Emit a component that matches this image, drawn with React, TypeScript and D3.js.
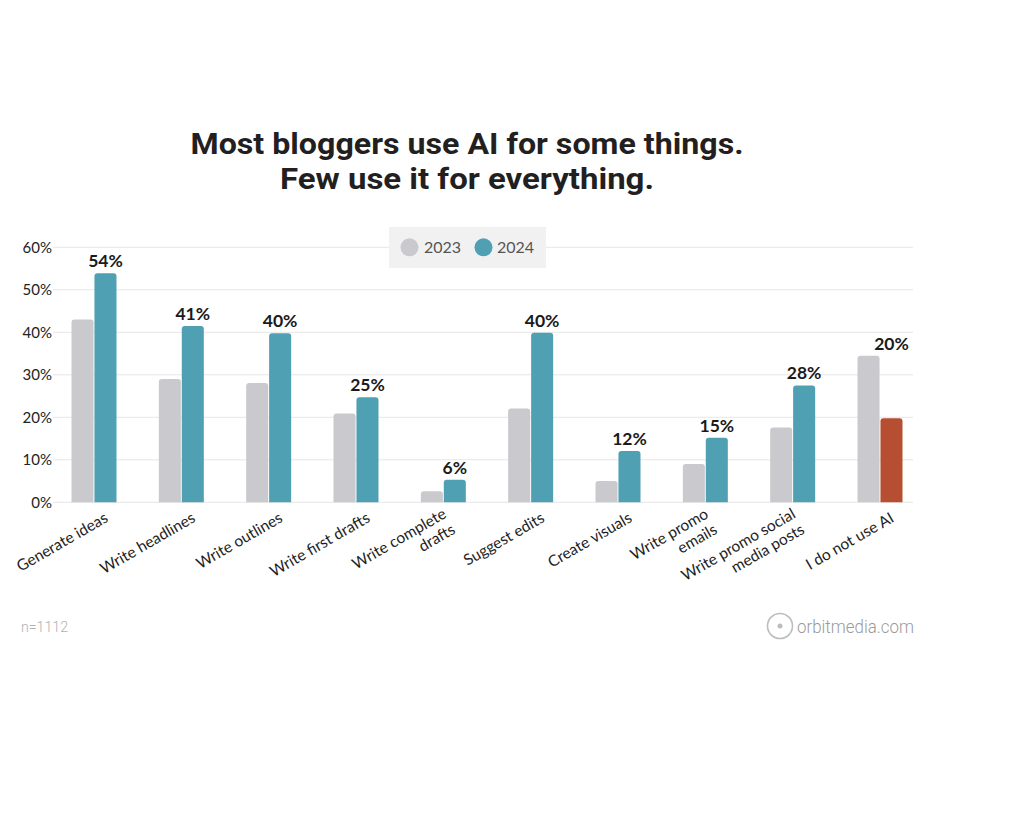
import React from "react";
import * as d3 from "d3";

const categories = [
  "Generate ideas",
  "Write headlines",
  "Write outlines",
  "Write first drafts",
  "Write complete\ndrafts",
  "Suggest edits",
  "Create visuals",
  "Write promo\nemails",
  "Write promo social\nmedia posts",
  "I do not use AI",
];
const series = ["2023", "2024"];
const values2023 = [43, 29, 28.1, 20.9, 2.6, 22.1, 5, 9, 17.6, 34.5];
const values2024 = [53.9, 41.5, 39.8, 24.7, 5.3, 39.9, 12.1, 15.2, 27.5, 19.8];
const labels2024 = ["54%", "41%", "40%", "25%", "6%", "40%", "12%", "15%", "28%", "20%"];
const yTicks = [0, 10, 20, 30, 40, 50, 60];
const titleLines = ["Most bloggers use AI for some things.", "Few use it for everything."];
const highlightCategory = "I do not use AI";

const W = 1024;
const H = 819;
const GRAY = "#cac9cd";
const TEAL = "#50a0b3";
const RED = "#b64f31";

function topRoundedRect(x: number, y: number, w: number, h: number, r: number) {
  const rr = Math.min(r, h, w / 2);
  const p = d3.path();
  p.moveTo(x, y + h);
  p.lineTo(x, y + rr);
  p.quadraticCurveTo(x, y, x + rr, y);
  p.lineTo(x + w - rr, y);
  p.quadraticCurveTo(x + w, y, x + w, y + rr);
  p.lineTo(x + w, y + h);
  p.closePath();
  return p.toString();
}

export default function App() {
  const y = d3.scaleLinear().domain([0, 60]).range([502.3, 247.3]);
  const x0 = d3.scaleBand<string>().domain(categories).range([50.33, 923.67]).padding(0);
  const x1 = d3.scaleBand<string>().domain(series).range([-22.5, 22.5]).paddingInner(0.04);
  const gridX0 = 53;
  const gridX1 = 913;
  const center = (c: string) => (x0(c) as number) + x0.bandwidth() / 2;
  const bw = x1.bandwidth();

  return (
    <svg
      width={W}
      height={H}
      viewBox={`0 0 ${W} ${H}`}
      style={{ position: "absolute", left: 0, top: 0, background: "#ffffff" }}
    >
      <rect x={0} y={0} width={W} height={H} fill="#ffffff" />

      {/* Title */}
      <text
        x={467}
        y={154}
        textAnchor="middle"
        fontFamily="Roboto, sans-serif"
        fontWeight={700}
        fontSize={30}
        fill="#231f20"
        textLength={553}
        lengthAdjust="spacingAndGlyphs"
      >
        {titleLines[0]}
      </text>
      <text
        x={467}
        y={189}
        textAnchor="middle"
        fontFamily="Roboto, sans-serif"
        fontWeight={700}
        fontSize={30}
        fill="#231f20"
        textLength={374}
        lengthAdjust="spacingAndGlyphs"
      >
        {titleLines[1]}
      </text>

      {/* Gridlines */}
      {yTicks.map((t) => (
        <line
          key={"g" + t}
          x1={gridX0}
          x2={gridX1}
          y1={y(t)}
          y2={y(t)}
          stroke="#e6e6e6"
          strokeWidth={1}
        />
      ))}

      {/* Y tick labels */}
      {yTicks.map((t) => (
        <text
          key={"t" + t}
          x={52}
          y={y(t) + 5.5}
          textAnchor="end"
          fontFamily="Lato, sans-serif"
          fontSize={15}
          fill="#222"
        >
          {d3.format(".0f")(t) + "%"}
        </text>
      ))}

      {/* Legend */}
      <rect x={389} y={227} width={157} height={41} fill="#f1f1f1" />
      <circle cx={409.5} cy={247.3} r={9} fill={GRAY} />
      <text x={424} y={253} fontFamily="Lato, sans-serif" fontSize={16} fill="#555">
        {series[0]}
      </text>
      <circle cx={483.5} cy={247.3} r={9} fill={TEAL} />
      <text x={497} y={253} fontFamily="Lato, sans-serif" fontSize={16} fill="#555">
        {series[1]}
      </text>

      {/* Bars */}
      {categories.map((c, i) => {
        const cx = center(c);
        const v23 = values2023[i];
        const v24 = values2024[i];
        const gx = cx + (x1("2023") as number);
        const tx = cx + (x1("2024") as number);
        const col24 = c === highlightCategory ? RED : TEAL;
        const labelTop = y(Math.max(v23, v24)) - 6;
        return (
          <g key={c}>
            <path d={topRoundedRect(gx, y(v23), bw, y(0) - y(v23), 3)} fill={GRAY} />
            <path d={topRoundedRect(tx, y(v24), bw, y(0) - y(v24), 3)} fill={col24} />
            <text
              x={tx + bw / 2}
              y={labelTop}
              textAnchor="middle"
              fontFamily="Lato, sans-serif"
              fontWeight={700}
              fontSize={17.5}
              fill="#1a1a1a"
            >
              {labels2024[i]}
            </text>
          </g>
        );
      })}

      {/* X labels */}
      {categories.map((c) => {
        const lines = c.split("\n");
        const lh = 18;
        const multi = lines.length > 1;
        const ax = center(c) + (multi ? 4 : 15);
        const ay = multi ? 517 : 521;
        return (
          <g key={"xl" + c} transform={`translate(${ax},${ay}) rotate(-30)`}>
            <text textAnchor="end" fontFamily="Lato, sans-serif" fontSize={15.5} fill="#1e1e1e">
              {lines.map((l, k) => (
                <tspan key={k} x={0} dy={k === 0 ? 0 : lh}>
                  {l}
                </tspan>
              ))}
            </text>
          </g>
        );
      })}

      {/* Footer */}
      <text
        x={21}
        y={632}
        fontFamily="Roboto, sans-serif"
        fontWeight={300}
        fontSize={15}
        fill="#b0b0b0"
        textLength={47}
        lengthAdjust="spacingAndGlyphs"
      >
        n=1112
      </text>
      <circle cx={780} cy={626} r={12.5} fill="none" stroke="#bdbdbd" strokeWidth={1.6} />
      <circle cx={780} cy={626} r={2.5} fill="#bdbdbd" />
      <text
        x={797}
        y={633}
        fontFamily="Roboto, sans-serif"
        fontWeight={300}
        fontSize={18}
        fill="#9a9a9a"
        textLength={117}
        lengthAdjust="spacingAndGlyphs"
      >
        orbitmedia.com
      </text>
    </svg>
  );
}
